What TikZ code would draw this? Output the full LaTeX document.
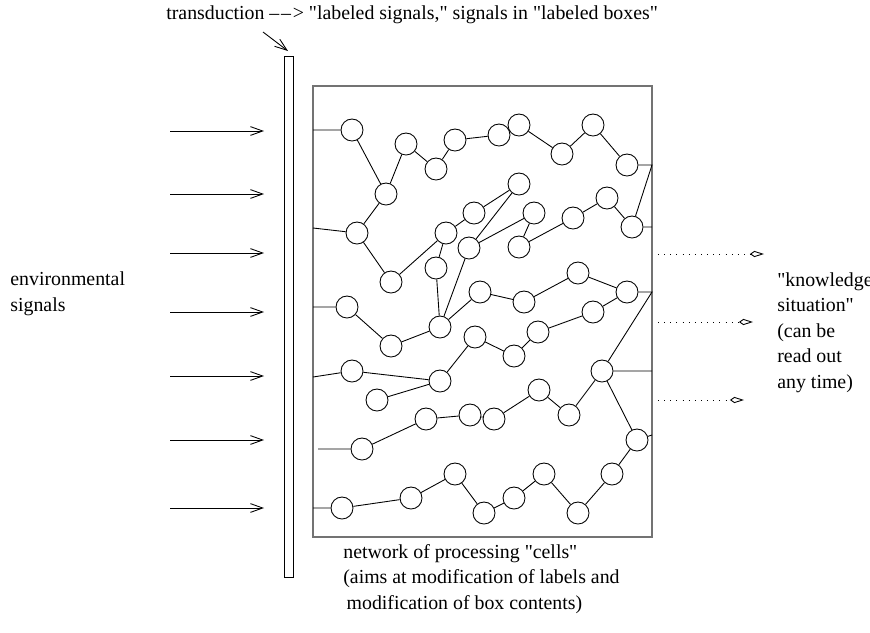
\documentclass[tikz,border=0pt]{standalone}
\usepackage{fontspec}
\setmainfont{Liberation Serif}
\usetikzlibrary{arrows.meta}

\newcommand{\qq}{\textquotedbl}
\newcommand{\ddash}{\textendash\kern1pt\textendash\kern1pt>}

\tikzset{
	cell/.style={circle, draw, line width=0.5pt, minimum size=0.44cm, inner sep=0pt},
	wire/.style={line width=0.5pt},
	sig/.style={line width=0.5pt, -{Straight Barb[length=7pt,width=5pt]}},
	readout/.style={line width=0.5pt, dash pattern=on 0.5pt off 3pt, -{Kite[open,length=8pt,width=3.5pt,inset=2.5pt]}},
	txt/.style={font=\fontsize{11.3}{14.5}\selectfont, inner sep=0pt, anchor=base west, align=left}
}

\begin{document}
\begin{tikzpicture}[x=0.02cm, y=-0.02cm]
			%%%%% START %%%%%
			\useasboundingbox (0, 0) rectangle (870, 633);
			
			% texts (anchored at the base of the last line)
			\node[txt] (trans) at (166, 19) {transduction \ddash{} \qq labeled signals,\qq{} signals in \qq labeled boxes\qq};
			\node[txt] (env) at (10, 311) {environmental\\signals};
			\node[txt] (know) at (777, 388) {\qq knowledge\\situation\qq\\(can be\\read out\\any time)};
			\node[txt] (net) at (343, 609) {network of processing \qq cells\qq\\(aims at modification of labels and\\ \,modification of box contents)};
			
			% transducer bar and network box
			\draw[line width=0.5pt] (284, 56) rectangle (293, 577);
			\draw[line width=0.8pt, color=black!55] (313, 86) rectangle (652, 537);
			
			\coordinate (tr0) at (263, 32);
			\coordinate (tr1) at (288, 51);
			\draw[sig] (tr0) -- (tr1);
			
			% environmental signals
			\coordinate (s1) at (170, 131); \coordinate (t1) at (264, 131);
			\coordinate (s2) at (170, 194); \coordinate (t2) at (264, 194);
			\coordinate (s3) at (170, 253); \coordinate (t3) at (264, 253);
			\coordinate (s4) at (170, 312); \coordinate (t4) at (264, 312);
			\coordinate (s5) at (170, 376); \coordinate (t5) at (264, 376);
			\coordinate (s6) at (170, 440); \coordinate (t6) at (264, 440);
			\coordinate (s7) at (170, 508); \coordinate (t7) at (264, 508);
			\draw[sig] (s1) -- (t1);
			\draw[sig] (s2) -- (t2);
			\draw[sig] (s3) -- (t3);
			\draw[sig] (s4) -- (t4);
			\draw[sig] (s5) -- (t5);
			\draw[sig] (s6) -- (t6);
			\draw[sig] (s7) -- (t7);
			
			% cells
			\node[cell] (a1) at (352, 130) {};
			\node[cell] (a2) at (386, 194) {};
			\node[cell] (a3) at (406, 144) {};
			\node[cell] (a4) at (436, 169) {};
			\node[cell] (a5) at (455, 140) {};
			\node[cell] (a6) at (499, 135) {};
			\node[cell] (a7) at (519, 125) {};
			\node[cell] (a8) at (562, 154) {};
			\node[cell] (a9) at (593, 125) {};
			\node[cell] (a10) at (627, 165) {};
			
			\node[cell] (b1) at (357, 233) {};
			\node[cell] (b2) at (391, 282) {};
			\node[cell] (b3) at (446, 233) {};
			\node[cell] (b4) at (474, 213) {};
			\node[cell] (b5) at (436, 268) {};
			\node[cell] (b6) at (469, 248) {};
			\node[cell] (b7) at (519, 184) {};
			\node[cell] (b8) at (534, 213) {};
			\node[cell] (b9) at (519, 247) {};
			\node[cell] (b10) at (573, 218) {};
			\node[cell] (b11) at (607, 198) {};
			\node[cell] (b12) at (632, 227) {};
			
			\node[cell] (c1) at (347, 307) {};
			\node[cell] (c2) at (391, 346) {};
			\node[cell] (c3) at (440, 327) {};
			\node[cell] (c4) at (480, 292) {};
			\node[cell] (c5) at (524, 302) {};
			\node[cell] (c6) at (578, 273) {};
			\node[cell] (c7) at (627, 292) {};
			\node[cell] (c8) at (475, 337) {};
			\node[cell] (c9) at (514, 356) {};
			\node[cell] (c10) at (538, 332) {};
			\node[cell] (c11) at (593, 312) {};
			
			\node[cell] (d1) at (352, 371) {};
			\node[cell] (d2) at (377, 400) {};
			\node[cell] (d3) at (440, 381) {};
			\node[cell] (d4) at (602, 371) {};
			\node[cell] (d5) at (426, 419) {};
			\node[cell] (d6) at (470, 415) {};
			\node[cell] (d7) at (494, 419) {};
			\node[cell] (d8) at (539, 390) {};
			\node[cell] (d9) at (569, 415) {};
			\node[cell] (d10) at (362, 449) {};
			
			\node[cell] (e1) at (342, 508) {};
			\node[cell] (e2) at (411, 498) {};
			\node[cell] (e3) at (455, 474) {};
			\node[cell] (e4) at (484, 513) {};
			\node[cell] (e5) at (514, 498) {};
			\node[cell] (e6) at (544, 474) {};
			\node[cell] (e7) at (578, 513) {};
			\node[cell] (e8) at (612, 474) {};
			\node[cell] (e9) at (637, 440) {};
			
			% ends at the box walls
			\coordinate (l1) at (313, 130);
			\coordinate (l2) at (313, 228);
			\coordinate (l3) at (313, 307);
			\coordinate (l4) at (313, 377);
			\coordinate (l5) at (313, 508);
			\coordinate (l6) at (318, 449);
			\coordinate (r1) at (652, 165);
			\coordinate (r2) at (652, 227);
			\coordinate (r3) at (652, 292);
			\coordinate (r4) at (652, 371);
			\coordinate (r5) at (652, 435);
			
			% links
			\draw[wire] (l1) -- (a1) -- (a2) -- (a3) -- (a4) -- (a5) -- (a6);
			\draw[wire] (a7) -- (a8) -- (a9) -- (a10) -- (r1) -- (b12) -- (r2);
			\draw[wire] (l2) -- (b1) -- (b2) -- (b3) -- (b4) -- (b7) -- (b6) -- (b8) -- (b9) -- (b10) -- (b11) -- (b12);
			\draw[wire] (a2) -- (b1);
			\draw[wire] (b3) -- (b5) -- (c3);
			\draw[wire] (b6) -- (c3);
			\draw[wire] (l3) -- (c1) -- (c2) -- (c3) -- (c4) -- (c5) -- (c6) -- (c7) -- (r3) -- (d4) -- (r4);
			\draw[wire] (c8) -- (c9) -- (c10) -- (c11) -- (c7);
			\draw[wire] (l4) -- (d1) -- (d3) -- (c8);
			\draw[wire] (d2) -- (d3);
			\draw[wire] (l6) -- (d10) -- (d5) -- (d6) -- (d7) -- (d8) -- (d9) -- (d4) -- (e9) -- (r5);
			\draw[wire] (l5) -- (e1) -- (e2) -- (e3) -- (e4) -- (e5) -- (e6) -- (e7) -- (e8) -- (e9);
			
			% read-out
			\coordinate (o1) at (658, 254); \coordinate (p1) at (764, 254);
			\coordinate (o2) at (658, 322); \coordinate (p2) at (753, 322);
			\coordinate (o3) at (658, 400); \coordinate (p3) at (744, 400);
			\draw[readout] (o1) -- (p1);
			\draw[readout] (o2) -- (p2);
			\draw[readout] (o3) -- (p3);
			
			%%%%% END %%%%%
		\end{tikzpicture}
\end{document}
